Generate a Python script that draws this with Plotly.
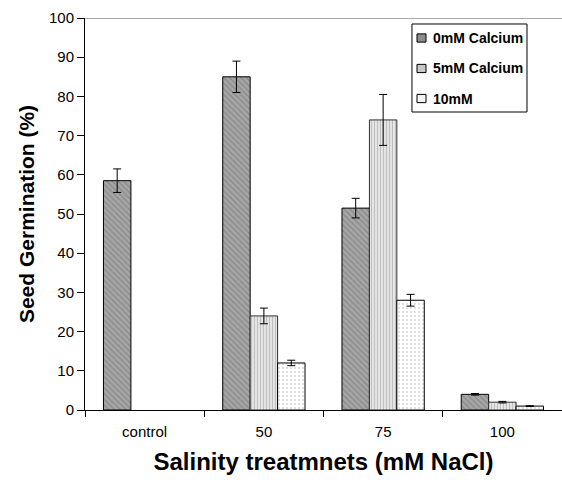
import plotly.graph_objects as go

categories = ["control", "50", "75", "100"]
series_names = ["0mM Calcium", "5mM Calcium", "10mM"]
ca0 = [58.5, 85.0, 51.5, 4.0]
ca0_err = [3.0, 4.0, 2.5, 0.2]
ca5 = [None, 24.0, 74.0, 2.0]
ca5_err = [None, 2.0, 6.5, 0.2]
ca10 = [None, 12.0, 28.0, 1.0]
ca10_err = [None, 0.7, 1.5, 0.1]

styles = [
    dict(bg="#a6a6a6", fg="#6e6e6e", shape="\\", size=4, solidity=0.35, line="#000000", swatch="#8c8c8c"),
    dict(bg="#e4e4e4", fg="#9a9a9a", shape="|", size=3, solidity=0.35, line="#333333", swatch="#c8c8c8"),
    dict(bg="#ffffff", fg="#b0b0b0", shape=".", size=4, solidity=0.2, line="#000000", swatch="#f4f4f4"),
]

fig = go.Figure()
for i, (name, vals, errs) in enumerate(zip(series_names, [ca0, ca5, ca10], [ca0_err, ca5_err, ca10_err])):
    s = styles[i]
    fig.add_trace(go.Bar(
        x=categories, y=vals, name=name, showlegend=False,
        marker=dict(color=s["bg"], line=dict(color=s["line"], width=1),
                    pattern=dict(shape=s["shape"], fgcolor=s["fg"], bgcolor=s["bg"],
                                 size=s["size"], solidity=s["solidity"])),
        error_y=dict(type="data", array=errs, visible=True, color="#000000", thickness=1, width=4),
    ))

# custom legend (compact, like the original)
shapes = [dict(type="line", xref="paper", yref="y", x0=0, x1=1, y0=100, y1=100,
               line=dict(color="#555555", width=1)),
          dict(type="rect", xref="paper", yref="paper", x0=0.6855, x1=0.9266, y0=0.7602, y1=0.9847,
               line=dict(color="#000000", width=1), fillcolor="white", layer="above")]
annotations = []
legend_y = [0.949, 0.8712, 0.7946]
for i, name in enumerate(series_names):
    yc = legend_y[i]
    shapes.append(dict(type="rect", xref="paper", yref="paper", x0=0.696, x1=0.7149,
                       y0=yc - 0.0105, y1=yc + 0.0105,
                       line=dict(color="#000000", width=1), fillcolor=styles[i]["swatch"], layer="above"))
    annotations.append(dict(xref="paper", yref="paper", x=0.7254, y=yc, xanchor="left", yanchor="middle",
                            text=f"<b>{name}</b>", showarrow=False,
                            font=dict(size=14, family="Liberation Sans, Arial", color="#000000")))

fig.update_layout(
    width=562, height=480,
    margin=dict(l=85, r=0, t=18, b=70),
    paper_bgcolor="white", plot_bgcolor="white",
    barmode="group", bargap=0.31, bargroupgap=0,
    font=dict(family="Liberation Sans, Arial", size=15, color="#000000"),
    showlegend=False,
    xaxis=dict(type="category", range=[-0.5, 3.5], showline=True, linecolor="#000000", linewidth=1,
               ticks="outside", tickson="boundaries", ticklen=6, tickcolor="#000000",
               ticklabelstandoff=8,
               showgrid=False, zeroline=False, tickfont=dict(size=15),
               title=dict(text="<b>Salinity treatmnets (mM NaCl)</b>", font=dict(size=24), standoff=14)),
    yaxis=dict(range=[0, 100], dtick=10, showline=True, linecolor="#000000", linewidth=1,
               ticks="outside", ticklen=7, tickcolor="#000000", showgrid=False, zeroline=False,
               tickfont=dict(size=15),
               title=dict(text="<b>Seed Germination (%)</b>", font=dict(size=21), standoff=8)),
    shapes=shapes,
    annotations=annotations,
)

fig.write_html("out.html")
